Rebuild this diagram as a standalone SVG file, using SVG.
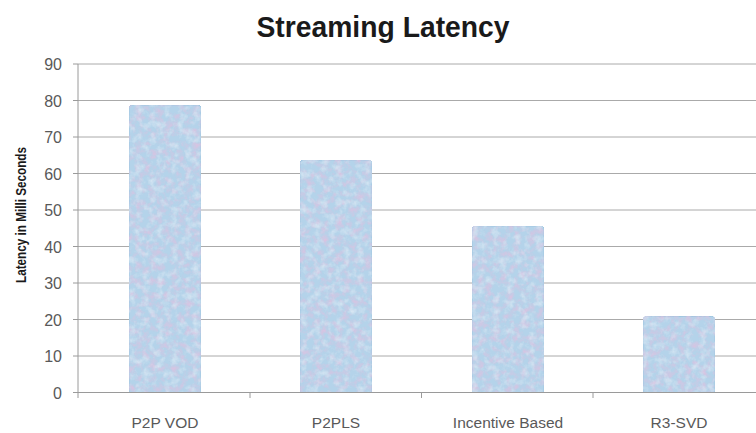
<svg xmlns="http://www.w3.org/2000/svg" width="756" height="433" viewBox="0 0 756 433">
  <style>
    .grid { stroke: #aaaaaa; stroke-width: 1; fill: none; }
    .axis { stroke: #9a9a9a; stroke-width: 1; fill: none; }
    .ylab { font-family: "Liberation Sans", Arial, sans-serif; font-size: 16px; fill: #595959; text-anchor: end; }
    .xlab { font-family: "Liberation Sans", Arial, sans-serif; font-size: 15.5px; fill: #595959; text-anchor: middle; }
    .title { font-family: "Liberation Sans", Arial, sans-serif; font-size: 30px; font-weight: bold; fill: #1a1a1a; text-anchor: middle; }
    .ytitle { font-family: "Liberation Sans", Arial, sans-serif; font-size: 14.5px; font-weight: bold; fill: #1a1a1a; text-anchor: middle; }
    .bar { fill: #b4d3ea; stroke: #a0c6e0; stroke-width: 1; filter: url(#mottle); }
  </style>
  <defs>
    <!-- light blue base with soft pink and pale blotches -->
    <filter id="mottle" x="0" y="0" width="1" height="1" color-interpolation-filters="sRGB">
      <feTurbulence type="fractalNoise" baseFrequency="0.14" numOctaves="3" seed="7" result="noise"/>
      <feColorMatrix in="noise" type="matrix" values="0 0 0 0 0.86  0 0 0 0 0.76  0 0 0 0 0.88  2 0 0 0 -0.85" result="pink"/>
      <feComposite in="pink" in2="SourceGraphic" operator="in" result="pinkIn"/>
      <feColorMatrix in="noise" type="matrix" values="0 0 0 0 0.84  0 0 0 0 0.9  0 0 0 0 0.95  0 2 0 0 -0.9" result="pale"/>
      <feComposite in="pale" in2="SourceGraphic" operator="in" result="paleIn"/>
      <feMerge>
        <feMergeNode in="SourceGraphic"/>
        <feMergeNode in="pinkIn"/>
        <feMergeNode in="paleIn"/>
      </feMerge>
    </filter>
  </defs>

  <rect width="756" height="433" fill="#ffffff"/>

  <text class="title" x="383" y="37" textLength="253" lengthAdjust="spacingAndGlyphs">Streaming Latency</text>

  <g id="gridlines">
    <line class="grid" x1="78" y1="64" x2="756" y2="64"/>
    <line class="grid" x1="78" y1="100.5" x2="756" y2="100.5"/>
    <line class="grid" x1="78" y1="137" x2="756" y2="137"/>
    <line class="grid" x1="78" y1="173.5" x2="756" y2="173.5"/>
    <line class="grid" x1="78" y1="210" x2="756" y2="210"/>
    <line class="grid" x1="78" y1="246.5" x2="756" y2="246.5"/>
    <line class="grid" x1="78" y1="283" x2="756" y2="283"/>
    <line class="grid" x1="78" y1="319.5" x2="756" y2="319.5"/>
    <line class="grid" x1="78" y1="356" x2="756" y2="356"/>
  </g>

  <g id="bars">
    <path class="bar" d="M129,392.5 V107 L131,105 H199 L201,107 V392.5 Z"/>
    <path class="bar" d="M300,392.5 V162 L302,160 H370 L372,162 V392.5 Z"/>
    <path class="bar" d="M472,392.5 V228 L474,226 H542 L544,228 V392.5 Z"/>
    <path class="bar" d="M643,392.5 V318.5 L645,316.5 H713 L715,318.5 V392.5 Z"/>
  </g>

  <g id="axes">
    <line class="axis" x1="78" y1="64" x2="78" y2="392.5"/>
    <line class="axis" x1="78" y1="392.5" x2="756" y2="392.5"/>
    <path class="axis" d="M73,64 H78 M73,100.5 H78 M73,137 H78 M73,173.5 H78 M73,210 H78 M73,246.5 H78 M73,283 H78 M73,319.5 H78 M73,356 H78 M73,392.5 H78"/>
    <path class="axis" d="M78,392.5 V398 M250,392.5 V398 M421.5,392.5 V398 M593,392.5 V398"/>
  </g>

  <g id="y-labels">
    <text class="ylab" x="62" y="70">90</text>
    <text class="ylab" x="62" y="106.5">80</text>
    <text class="ylab" x="62" y="143">70</text>
    <text class="ylab" x="62" y="179.5">60</text>
    <text class="ylab" x="62" y="216">50</text>
    <text class="ylab" x="62" y="252.5">40</text>
    <text class="ylab" x="62" y="289">30</text>
    <text class="ylab" x="62" y="325.5">20</text>
    <text class="ylab" x="62" y="362">10</text>
    <text class="ylab" x="62" y="398.5">0</text>
  </g>

  <text class="ytitle" transform="translate(26,215) rotate(-90)" textLength="136" lengthAdjust="spacingAndGlyphs">Latency in Milli Seconds</text>

  <g id="x-labels">
    <text class="xlab" x="165" y="428">P2P VOD</text>
    <text class="xlab" x="336" y="428">P2PLS</text>
    <text class="xlab" x="508" y="428">Incentive Based</text>
    <text class="xlab" x="679" y="428">R3-SVD</text>
  </g>
</svg>
